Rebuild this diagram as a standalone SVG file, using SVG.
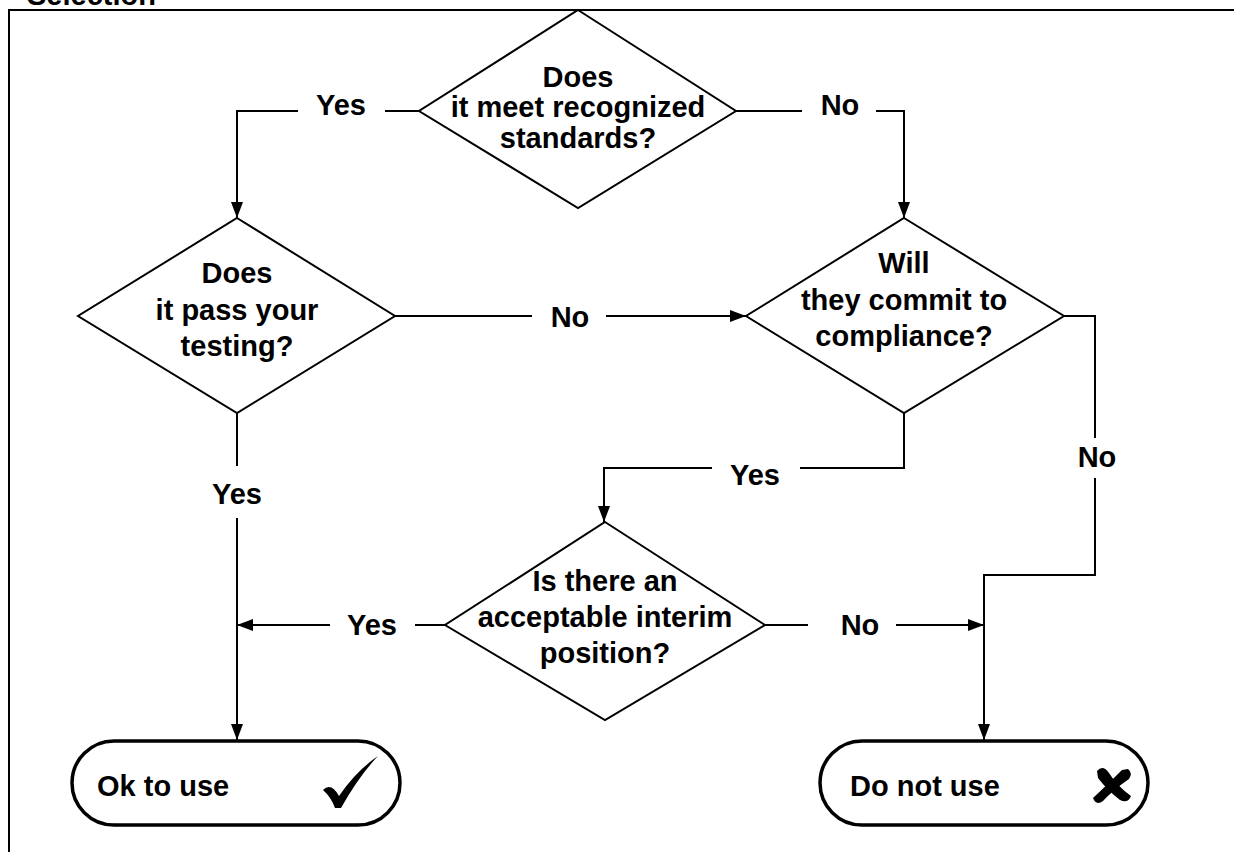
<svg xmlns="http://www.w3.org/2000/svg" width="1234" height="852" viewBox="0 0 1234 852">
<defs>
<marker id="arr" viewBox="0 0 16 12" refX="16" refY="6" markerWidth="16" markerHeight="12" markerUnits="userSpaceOnUse" orient="auto">
<path d="M0,0 L16,6 L0,12 Z" fill="#000"/>
</marker>
<style>
text{font-family:"Liberation Sans",Arial,sans-serif;font-weight:bold;font-size:29px;fill:#000}
.c{text-anchor:middle}
.d{fill:#fff;stroke:#000;stroke-width:2}
.t{fill:#fff;stroke:#000;stroke-width:3.5}
.ln{fill:none;stroke:#000;stroke-width:2}
.a{marker-end:url(#arr)}
</style>
</defs>
<rect width="1234" height="852" fill="#fff"/>
<g id="frame">
<text x="27" y="5">Selection</text>
<path class="ln" d="M9,852 V10 H1234"/>
</g>
<g id="connectors">
<path class="ln" d="M419,111 H385"/>
<path class="ln a" d="M298,111 H237 V218"/>
<text class="c" x="341" y="115">Yes</text>
<path class="ln" d="M736,111 H802"/>
<path class="ln a" d="M876,111 H904 V218"/>
<text class="c" x="840" y="115">No</text>
<path class="ln" d="M395,316 H532"/>
<path class="ln a" d="M606,316 H746"/>
<text class="c" x="570" y="327">No</text>
<path class="ln" d="M904,413 V468 H800"/>
<path class="ln a" d="M712,468 H604 V522"/>
<text class="c" x="755" y="485">Yes</text>
<path class="ln" d="M1064,316 H1095 V438"/>
<path class="ln a" d="M1095,478 V575 H984 V740"/>
<text class="c" x="1097" y="467">No</text>
<path class="ln" d="M765,625 H808"/>
<path class="ln a" d="M896,625 H984"/>
<text class="c" x="860" y="635">No</text>
<path class="ln" d="M445,625 H415"/>
<path class="ln a" d="M330,625 H237"/>
<text class="c" x="372" y="635">Yes</text>
<path class="ln" d="M237,413 V466"/>
<path class="ln a" d="M237,518 V740"/>
<text class="c" x="237" y="504">Yes</text>
</g>
<g id="d1">
<polygon class="d" points="578,10 736,111 578,208 419,111"/>
<text class="c" x="578" y="87">Does</text>
<text class="c" x="578" y="117">it meet recognized</text>
<text class="c" x="578" y="148">standards?</text>
</g>
<g id="d2">
<polygon class="d" points="237,218 395,316 237,413 78,316"/>
<text class="c" x="237" y="283">Does</text>
<text class="c" x="237" y="320">it pass your</text>
<text class="c" x="237" y="356">testing?</text>
</g>
<g id="d3">
<polygon class="d" points="904,218 1064,316 904,413 746,316"/>
<text class="c" x="904" y="273">Will</text>
<text class="c" x="904" y="310">they commit to</text>
<text class="c" x="904" y="346">compliance?</text>
</g>
<g id="d4">
<polygon class="d" points="605,522 765,625 605,720 445,625"/>
<text class="c" x="605" y="591">Is there an</text>
<text class="c" x="605" y="627">acceptable interim</text>
<text class="c" x="605" y="663">position?</text>
</g>
<g id="ok">
<rect class="t" x="72" y="741" width="328" height="84" rx="42" ry="42"/>
<text x="97" y="796">Ok to use</text>
<path d="M323,790 Q331,782 339,796 Q356,771 378,756 Q359,776 341,808 L335,808 Q331,797 323,790 Z" fill="#000"/>
</g>
<g id="no">
<rect class="t" x="820" y="741" width="328" height="84" rx="42" ry="42"/>
<text x="850" y="796">Do not use</text>
<path d="M1097,771 Q1103,764 1109,773 Q1117,786 1131,796 Q1128,804 1120,800 Q1108,791 1098,778 Z" fill="#000"/>
<path d="M1128,769 Q1133,773 1129,779 Q1113,790 1103,801 Q1096,806 1093,798 Q1109,783 1122,770 Z" fill="#000"/>
</g>
</svg>
